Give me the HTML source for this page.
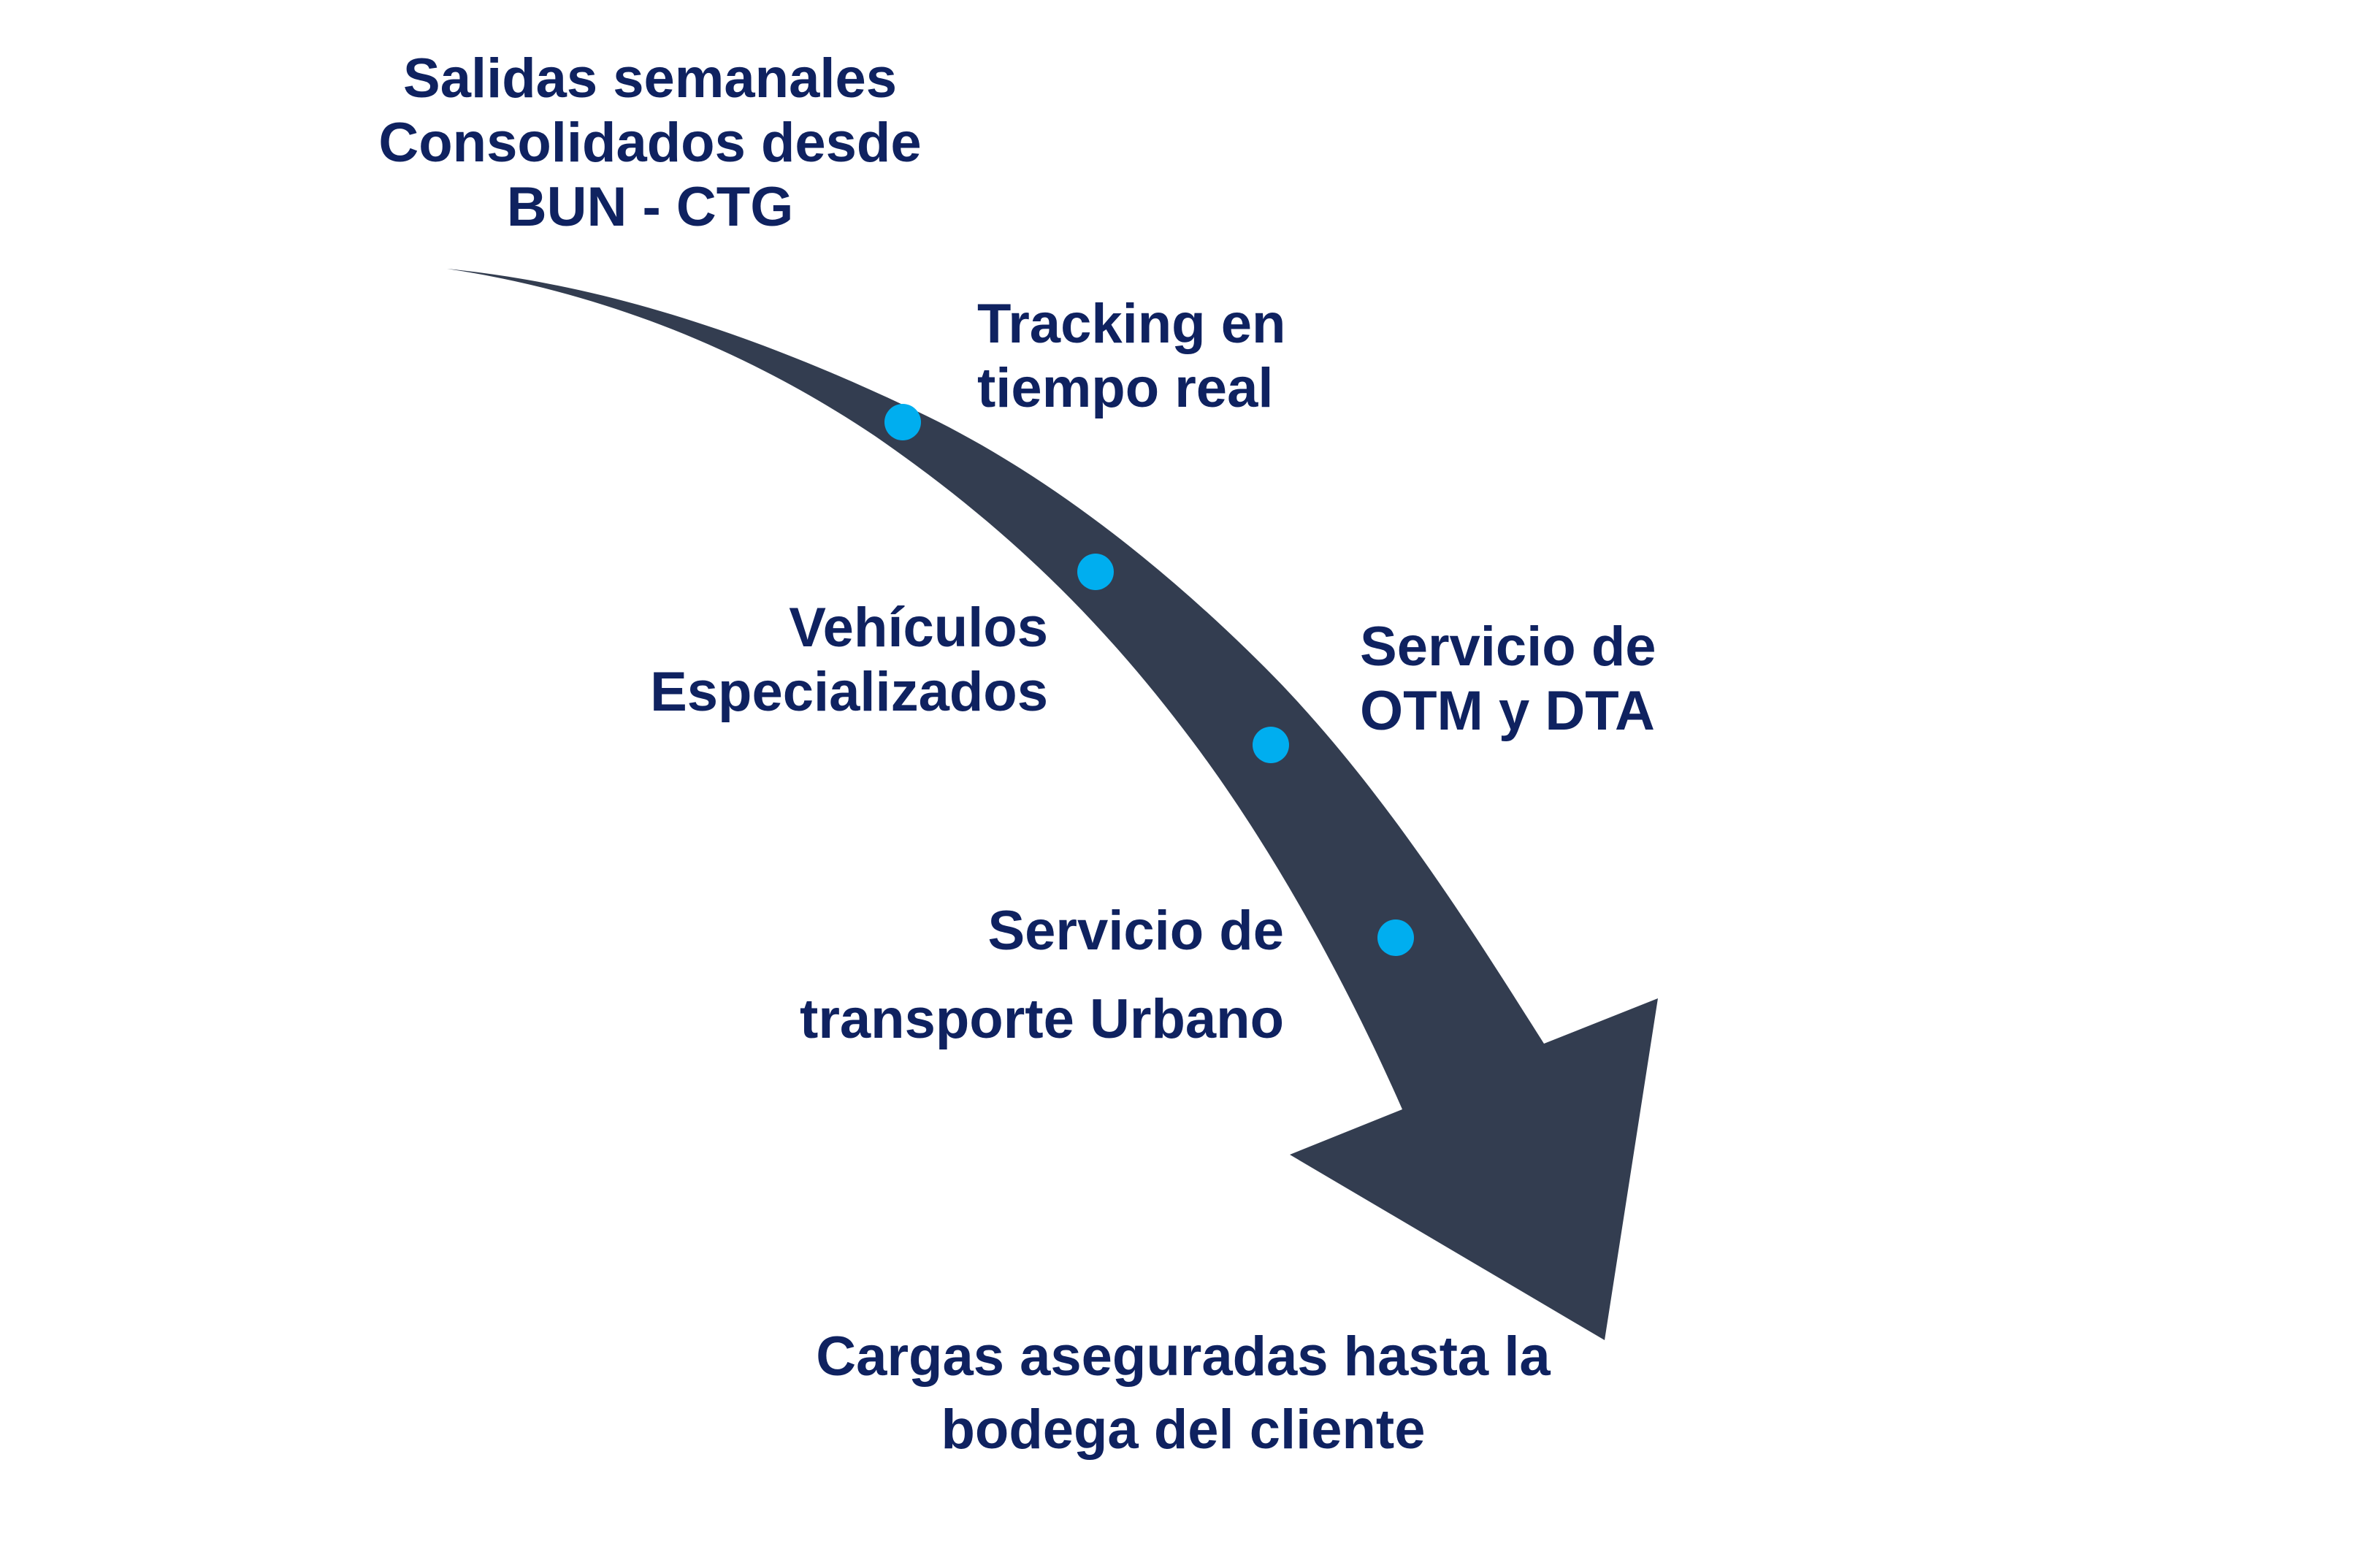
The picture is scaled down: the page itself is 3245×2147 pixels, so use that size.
<!DOCTYPE html>
<html><head><meta charset="utf-8">
<style>
html,body{margin:0;padding:0;background:#fff;}
body{width:3245px;height:2147px;position:relative;overflow:hidden;font-family:"Liberation Sans",sans-serif;}
.t{position:absolute;color:#0f2260;font-weight:bold;font-size:76px;line-height:88px;white-space:nowrap;}
</style></head><body>
<svg width="3245" height="2147" style="position:absolute;left:0;top:0">
<g transform="translate(-8,-6)">
<path fill="#333d50" d="M620,374 C800,392 1000,445 1248,562 C1420,640 1590,770 1740,920 C1900,1080 2030,1290 2122,1435 L2278,1373 L2205,1841 L1774,1587 L1928,1525 C1860,1370 1760,1180 1640,1020 C1520,860 1390,730 1206,603 C1030,485 830,405 620,374 Z"/>
</g>
<g fill="#00aeef">
<circle cx="1236" cy="578" r="25"/>
<circle cx="1500" cy="783" r="25"/>
<circle cx="1740" cy="1020" r="25"/>
<circle cx="1911" cy="1284" r="25"/>
</g>
</svg>
<div class="t" style="left:390px;width:1000px;top:64px;text-align:center;">Salidas semanales<br>Consolidados desde<br>BUN - CTG</div>
<div class="t" style="left:1338px;top:400px;">Tracking en<br>tiempo real</div>
<div class="t" style="right:1810px;top:816px;text-align:right;">Vehículos<br>Especializados</div>
<div class="t" style="left:1862px;top:842px;">Servicio de<br>OTM y DTA</div>
<div class="t" style="right:1487px;top:1214px;text-align:right;line-height:121px;">Servicio de<br>transporte Urbano</div>
<div class="t" style="left:1020px;width:1200px;top:1808px;text-align:center;line-height:100px;">Cargas aseguradas hasta la<br>bodega del cliente</div>
</body></html>
